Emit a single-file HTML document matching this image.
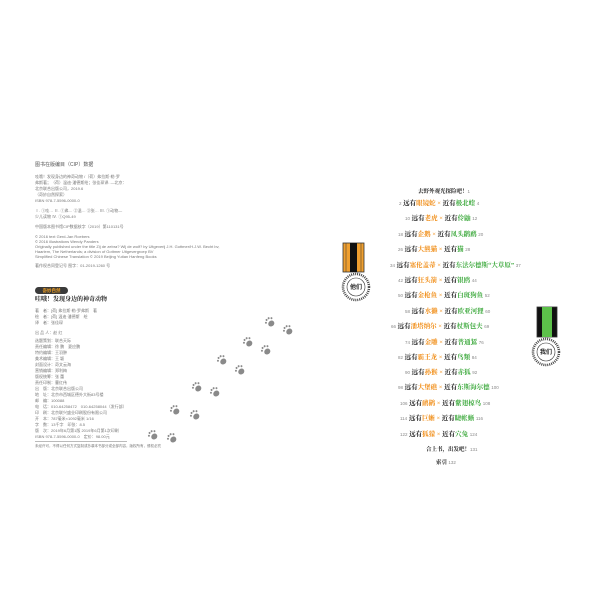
<!DOCTYPE html>
<html><head><meta charset="utf-8"><style>
body{margin:0;width:600px;height:600px;background:#fff;position:relative;overflow:hidden;font-family:"Liberation Sans","Noto Sans CJK SC",sans-serif;}
.l{position:absolute;left:35px;font-size:4px;color:#777;white-space:nowrap;line-height:5px}
.t{position:absolute;font-family:"Liberation Serif","Noto Serif CJK SC",serif;font-size:6.5px;font-weight:bold;color:#222;white-space:nowrap;line-height:8px}
.n{font-size:4.5px;color:#888;font-weight:normal;font-family:"Liberation Sans",sans-serif}
.o{color:#f08a10}.g{color:#3aa83a}.x{color:#f08a10;font-weight:normal}
</style></head><body>
<div class="l" style="top:163px;font-size:5px;color:#555">图书在版编目（CIP）数据</div>
<div class="l" style="top:174px">哇哦！发现身边的神奇动物 /（荷）弗拉斯·勒·罗</div>
<div class="l" style="top:180px">弗斯著；（荷）温迪·潘德斯绘；张佳琛译. —北京：</div>
<div class="l" style="top:186px">北京联合出版公司，2019.6</div>
<div class="l" style="top:192px">（奇妙自然探索）</div>
<div class="l" style="top:198px">ISBN 978-7-5596-0000-0</div>
<div class="l" style="top:208px">Ⅰ. ①哇… Ⅱ. ①弗… ②温… ③张… Ⅲ. ①动物—</div>
<div class="l" style="top:214px">少儿读物 Ⅳ. ①Q95-49</div>
<div class="l" style="top:224px">中国版本图书馆CIP数据核字（2019）第110131号</div>
<div class="l" style="top:234px">© 2016 text Gerd-Jan Roebers</div>
<div class="l" style="top:239px">© 2016 illustrations Wendy Panders</div>
<div class="l" style="top:244px">Originally published under the title Zij de zebra? Wij de wolf? by Uitgeverij J.H. Gottmer/H.J.W. Becht bv,</div>
<div class="l" style="top:249px">Haarlem, The Netherlands; a division of Gottmer Uitgevergroep BV</div>
<div class="l" style="top:254px">Simplified Chinese Translation © 2019 Beijing Yutian Hanfeng Books</div>
<div class="l" style="top:263px">著作权合同登记号 图字：01-2019-1260 号</div>
<div style="position:absolute;left:35px;top:287px;width:33px;height:7px;background:#3a3a3a;border-radius:4px;color:#f3a020;font-size:4.5px;line-height:7px;text-align:center;font-weight:bold">奇妙自然</div>
<div class="t" style="left:35px;top:296px;font-size:6px">哇哦！发现身边的神奇动物</div>
<div class="l" style="top:308px">著　者：[荷] 弗拉斯·勒·罗弗斯　著</div>
<div class="l" style="top:314px">绘　者：[荷] 温迪·潘德斯　绘</div>
<div class="l" style="top:320px">译　者：张佳琛</div>
<div class="l" style="top:330px">出 品 人：赵 红</div>
<div class="l" style="top:338px">选题策划：联合天际</div>
<div class="l" style="top:344px">责任编辑：徐 鹏　夏应鹏</div>
<div class="l" style="top:350px">特约编辑：王羽翀</div>
<div class="l" style="top:356px">美术编辑：王 颖</div>
<div class="l" style="top:362px">封面设计：奇文云海</div>
<div class="l" style="top:368px">营销编辑：郑利梅</div>
<div class="l" style="top:374px">版权统筹：张 蕾</div>
<div class="l" style="top:380px">责任印制：曹红伟</div>
<div class="l" style="top:386px">出　版：北京联合出版公司</div>
<div class="l" style="top:392px">地　址：北京市西城区德外大街83号楼</div>
<div class="l" style="top:398px">邮　编：100088</div>
<div class="l" style="top:404px">电　话：010-64258472　010-64258044（发行部）</div>
<div class="l" style="top:410px">印　刷：北京联兴盛业印刷股份有限公司</div>
<div class="l" style="top:416px">开　本：787毫米×1092毫米 1/16</div>
<div class="l" style="top:422px">字　数：13千字　印张：8.5</div>
<div class="l" style="top:428px">版　次：2019年6月第1版 2019年6月第1次印刷</div>
<div class="l" style="top:434px">ISBN 978-7-5596-0000-0　定价：98.00元</div>
<div style="position:absolute;left:35px;top:441px;width:92px;height:1px;background:#bbb"></div>
<div class="l" style="top:444px;font-size:3.5px">未经许可，不得以任何方式复制或抄袭本书部分或全部内容，版权所有，侵权必究</div>

<svg style="position:absolute;left:0;top:0" width="600" height="600">
<defs><g id="p" fill="#8a8a8a"><ellipse cx="0" cy="2" rx="3.2" ry="2.8"/><circle cx="-3.6" cy="-2" r="1"/><circle cx="-1.3" cy="-3.8" r="1"/><circle cx="1.4" cy="-3.8" r="1"/><circle cx="3.6" cy="-2" r="1"/></g></defs>
<use href="#p" transform="translate(248,342) rotate(-40)"/>
<use href="#p" transform="translate(266,350) rotate(-40)"/>
<use href="#p" transform="translate(222,360) rotate(-40)"/>
<use href="#p" transform="translate(240,370) rotate(-40)"/>
<use href="#p" transform="translate(197,387) rotate(-40)"/>
<use href="#p" transform="translate(215,392) rotate(-40)"/>
<use href="#p" transform="translate(175,410) rotate(-40)"/>
<use href="#p" transform="translate(195,415) rotate(-40)"/>
<use href="#p" transform="translate(153,435) rotate(-40)"/>
<use href="#p" transform="translate(172,438) rotate(-40)"/>
<use href="#p" transform="translate(270,322) rotate(-40)"/>
<use href="#p" transform="translate(288,330) rotate(-40)"/>
<!-- left medal -->
<rect x="343" y="243" width="21" height="29" fill="#f0a030" stroke="#333" stroke-width="0.8"/>
<rect x="350" y="243" width="7" height="29" fill="#111"/>
<line x1="346" y1="243" x2="346" y2="272" stroke="#333" stroke-width="0.5"/>
<line x1="361" y1="243" x2="361" y2="272" stroke="#333" stroke-width="0.5"/>
<circle cx="356" cy="287" r="13" fill="#fff" stroke="#444" stroke-width="2.5" stroke-dasharray="1 1"/>
<circle cx="356" cy="287" r="9" fill="#fff" stroke="#333" stroke-width="0.6"/>
<text x="356" y="289" font-size="6" text-anchor="middle" font-weight="bold" fill="#222" font-family="Noto Sans CJK SC,sans-serif">他们</text>
<!-- right medal -->
<rect x="537" y="307" width="20" height="30" fill="#111" stroke="#333" stroke-width="0.8"/>
<rect x="542" y="307" width="10" height="30" fill="#5cc04a"/>
<circle cx="546" cy="352" r="13" fill="#fff" stroke="#444" stroke-width="2.5" stroke-dasharray="1 1"/>
<circle cx="546" cy="352" r="9" fill="#fff" stroke="#333" stroke-width="0.6"/>
<text x="546" y="354" font-size="6" text-anchor="middle" font-weight="bold" fill="#222" font-family="Noto Sans CJK SC,sans-serif">我们</text>
</svg>

<div class="t" style="left:418px;top:188px;font-size:5.5px">去野外观光探险吧！<span class="n">1</span></div>
<div class="t" style="left:399px;top:200px"><span class="n">2</span> 远有<span class="o">眼镜蛇</span> <span class="x">×</span> 近有<span class="g">极北蝰</span> <span class="n">4</span></div>
<div class="t" style="left:405px;top:215px"><span class="n">10</span> 远有<span class="o">老虎</span> <span class="x">×</span> 近有<span class="g">伶鼬</span> <span class="n">12</span></div>
<div class="t" style="left:398px;top:231px"><span class="n">18</span> 远有<span class="o">企鹅</span> <span class="x">×</span> 近有<span class="g">凤头䴙䴘</span> <span class="n">20</span></div>
<div class="t" style="left:398px;top:246px"><span class="n">26</span> 远有<span class="o">大熊猫</span> <span class="x">×</span> 近有<span class="g">猫</span> <span class="n">28</span></div>
<div class="t" style="left:390px;top:262px"><span class="n">34</span> 远有<span class="o">塞伦盖蒂</span> <span class="x">×</span> 近有<span class="g">东法尔德斯“大草原”</span> <span class="n">37</span></div>
<div class="t" style="left:398px;top:277px"><span class="n">42</span> 远有<span class="o">狂头箭</span> <span class="x">×</span> 近有<span class="g">银鸥</span> <span class="n">44</span></div>
<div class="t" style="left:398px;top:292px"><span class="n">50</span> 远有<span class="o">金枪鱼</span> <span class="x">×</span> 近有<span class="g">白斑狗鱼</span> <span class="n">52</span></div>
<div class="t" style="left:405px;top:308px"><span class="n">58</span> 远有<span class="o">水獭</span> <span class="x">×</span> 近有<span class="g">欧亚河狸</span> <span class="n">60</span></div>
<div class="t" style="left:391px;top:323px"><span class="n">66</span> 远有<span class="o">潘塔纳尔</span> <span class="x">×</span> 近有<span class="g">杖斯包夫</span> <span class="n">69</span></div>
<div class="t" style="left:405px;top:339px"><span class="n">74</span> 远有<span class="o">金雕</span> <span class="x">×</span> 近有<span class="g">普通鵟</span> <span class="n">76</span></div>
<div class="t" style="left:398px;top:354px"><span class="n">82</span> 远有<span class="o">霸王龙</span> <span class="x">×</span> 近有<span class="g">鸟類</span> <span class="n">84</span></div>
<div class="t" style="left:405px;top:369px"><span class="n">90</span> 远有<span class="o">孙猴</span> <span class="x">×</span> 近有<span class="g">赤狐</span> <span class="n">92</span></div>
<div class="t" style="left:398px;top:384px"><span class="n">98</span> 远有<span class="o">大堡礁</span> <span class="x">×</span> 近有<span class="g">东斯海尔德</span> <span class="n">100</span></div>
<div class="t" style="left:400px;top:400px"><span class="n">106</span> 远有<span class="o">鸸鹋</span> <span class="x">×</span> 近有<span class="g">紫翅椋鸟</span> <span class="n">108</span></div>
<div class="t" style="left:400px;top:415px"><span class="n">114</span> 远有<span class="o">巨蜥</span> <span class="x">×</span> 近有<span class="g">睫帐蜥</span> <span class="n">116</span></div>
<div class="t" style="left:400px;top:431px"><span class="n">122</span> 远有<span class="o">狐獴</span> <span class="x">×</span> 近有<span class="g">穴兔</span> <span class="n">124</span></div>
<div class="t" style="left:426px;top:446px;font-size:5.5px">合上书，出发吧！<span class="n">131</span></div>
<div class="t" style="left:436px;top:459px;font-size:5.5px">索引 <span class="n">132</span></div>
</body></html>
